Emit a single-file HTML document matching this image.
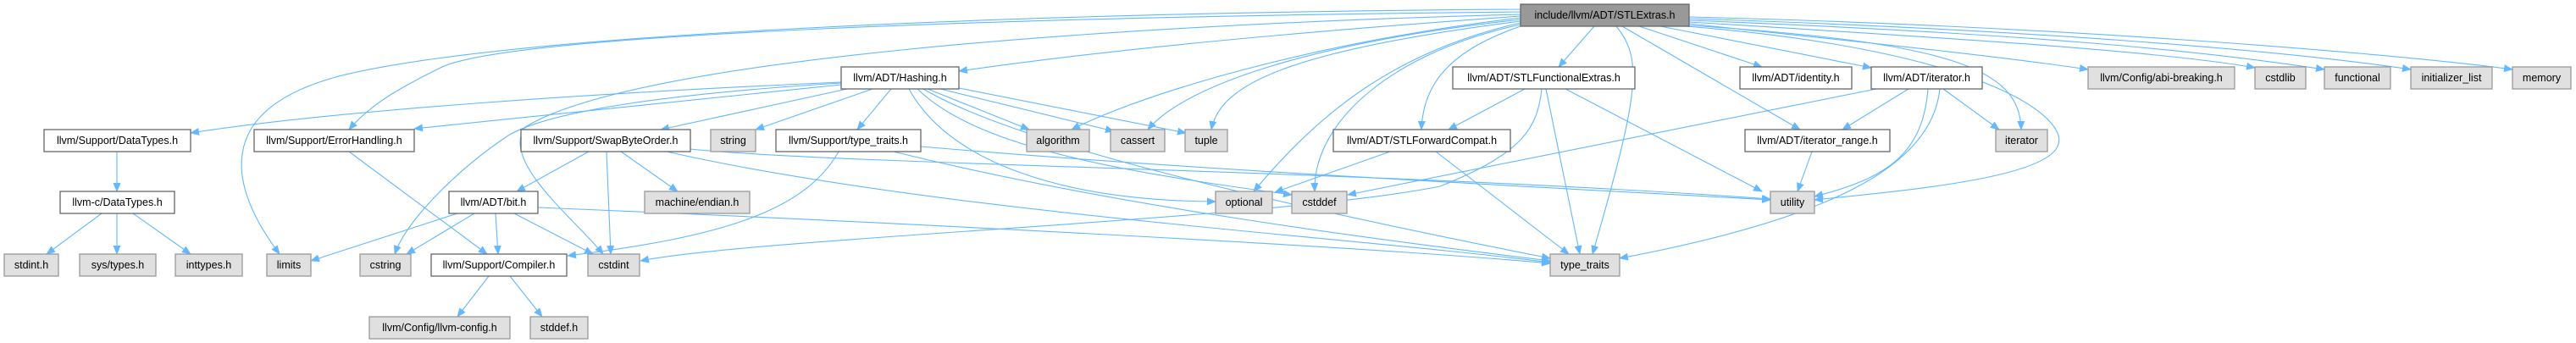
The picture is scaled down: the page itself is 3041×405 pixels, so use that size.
<!DOCTYPE html>
<html><head><meta charset="utf-8"><style>
html,body{margin:0;padding:0;background:#fff;}
svg{display:block;}
text{font-family:"Liberation Sans",Arial,sans-serif;font-size:12.5px;fill:#000;}
.w{fill:#fff;stroke:#666;stroke-width:1.3;}
.g{fill:#e0e0e0;stroke:#999;stroke-width:1.3;}
.t{fill:#999;stroke:#666;stroke-width:1.3;}
path.e{fill:none;stroke:#63b8ff;stroke-width:1.1;}
</style></head><body>
<svg width="3041" height="405" viewBox="0 0 3041 405" xmlns="http://www.w3.org/2000/svg">
<defs><marker id="a" markerWidth="11" markerHeight="9" refX="10" refY="4.5" orient="auto" markerUnits="userSpaceOnUse"><path d="M0,0 L11,4.5 L0,9 Z" fill="#63b8ff"/></marker></defs>
<g marker-end="url(#a)">
<!-- STLExtras edges -->
<path class="e" d="M1994,20 C2400,30 2800,60 2966,82"/>
<path class="e" d="M1994,22 C2400,35 2700,60 2846,82"/>
<path class="e" d="M1994,24 C2400,40 2600,60 2744,82"/>
<path class="e" d="M1994,26 C2300,45 2550,60 2662,80"/>
<path class="e" d="M1994,28 C2200,50 2350,65 2465,82"/>
<path class="e" d="M1994,30 C2300,50 2385,80 2386,153"/>
<path class="e" d="M1990,31 C2350,60 2440,140 2430,170 C2420,210 2250,225 2142,236"/>
<path class="e" d="M1960,31 L2209,80"/>
<path class="e" d="M1935,31 L2080,79"/>
<path class="e" d="M1915,31 L2125,153"/>
<path class="e" d="M1908,31 C1940,70 1935,110 1880,300"/>
<path class="e" d="M1882,31 L1840,79"/>
<path class="e" d="M1795,31 C1710,60 1680,100 1678,153"/>
<path class="e" d="M1795,29 C1650,60 1550,140 1552,226"/>
<path class="e" d="M1795,27 C1650,60 1560,130 1480,226"/>
<path class="e" d="M1795,25 C1520,60 1440,100 1430,153"/>
<path class="e" d="M1795,23 C1550,50 1400,100 1355,153"/>
<path class="e" d="M1795,21 C1550,50 1350,110 1265,153"/>
<path class="e" d="M1795,19 C1500,40 1300,60 1132,84"/>
<path class="e" d="M1795,17 C1300,30 750,70 620,150 C590,190 680,260 712,300"/>
<path class="e" d="M1795,14 C1200,20 600,40 520,80 C480,100 440,120 412,153"/>
<path class="e" d="M1795,11 C1200,15 600,40 400,90 C250,130 270,220 330,300"/>
<!-- Hashing -->
<path class="e" d="M993,97 C700,110 400,130 225,157"/>
<path class="e" d="M993,100 C800,120 600,140 489,152"/>
<path class="e" d="M993,98 C800,110 650,130 600,160 C540,200 480,260 466,300"/>
<path class="e" d="M1000,105 L780,153"/>
<path class="e" d="M1030,105 L892,153"/>
<path class="e" d="M1052,105 L1012,153"/>
<path class="e" d="M1095,105 L1215,153"/>
<path class="e" d="M1110,105 L1315,155"/>
<path class="e" d="M1132,104 L1400,157"/>
<path class="e" d="M1073,105 C1120,190 1250,237 1435,238"/>
<path class="e" d="M1083,105 C1150,170 1300,200 1525,230"/>
<path class="e" d="M1090,105 C1200,170 1500,240 1830,305"/>
<!-- SBO -->
<path class="e" d="M695,179 L610,226"/>
<path class="e" d="M716,179 L721,300"/>
<path class="e" d="M733,179 L800,226"/>
<path class="e" d="M815,176 C1000,195 1600,200 2090,235"/>
<path class="e" d="M787,179 C1100,250 1600,280 1830,310"/>
<!-- type_traits.h -->
<path class="e" d="M990,179 C950,250 850,280 670,302"/>
<path class="e" d="M1087,173 C1400,200 1800,220 2090,236"/>
<path class="e" d="M1055,179 C1300,240 1600,280 1830,308"/>
<!-- others -->
<path class="e" d="M412,179 L575,300"/>
<path class="e" d="M138,179 L138,226"/>
<path class="e" d="M120,252 L55,300"/>
<path class="e" d="M138,252 L138,300"/>
<path class="e" d="M157,252 L225,300"/>
<path class="e" d="M540,252 L367,308"/>
<path class="e" d="M560,252 L480,300"/>
<path class="e" d="M585,252 L588,300"/>
<path class="e" d="M607,252 L700,300"/>
<path class="e" d="M635,245 C1000,260 1600,290 1830,311"/>
<path class="e" d="M577,326 L540,374"/>
<path class="e" d="M602,326 L640,374"/>
<path class="e" d="M1800,105 L1710,153"/>
<path class="e" d="M1820,105 C1815,150 1800,180 1700,220 C1500,260 900,280 756,308"/>
<path class="e" d="M1825,105 L1865,300"/>
<path class="e" d="M1848,105 L2080,226"/>
<path class="e" d="M1641,179 L1505,227"/>
<path class="e" d="M1695,179 L1852,300"/>
<path class="e" d="M2139,179 L2122,226"/>
<path class="e" d="M2215,105 L1591,230"/>
<path class="e" d="M2253,105 L2175,153"/>
<path class="e" d="M2276,105 C2270,180 2230,210 2142,232"/>
<path class="e" d="M2290,105 C2280,200 2150,260 1912,305"/>
<path class="e" d="M2294,105 L2360,153"/>
</g>
<!-- nodes -->
<g text-anchor="middle">
<rect class="t" x="1795" y="5" width="199" height="26"/><text x="1894.5" y="22">include/llvm/ADT/STLExtras.h</text>
<rect class="w" x="993" y="79" width="139" height="26"/><text x="1062.5" y="96">llvm/ADT/Hashing.h</text>
<rect class="w" x="1715" y="79" width="215" height="26"/><text x="1822.5" y="96">llvm/ADT/STLFunctionalExtras.h</text>
<rect class="w" x="2054" y="79" width="132" height="26"/><text x="2120" y="96">llvm/ADT/identity.h</text>
<rect class="w" x="2209" y="79" width="131" height="26"/><text x="2274.5" y="96">llvm/ADT/iterator.h</text>
<rect class="g" x="2465" y="79" width="173" height="26"/><text x="2551.5" y="96">llvm/Config/abi-breaking.h</text>
<rect class="g" x="2662" y="79" width="60" height="26"/><text x="2692" y="96">cstdlib</text>
<rect class="g" x="2744" y="79" width="78" height="26"/><text x="2783" y="96">functional</text>
<rect class="g" x="2846" y="79" width="96" height="26"/><text x="2894" y="96">initializer_list</text>
<rect class="g" x="2966" y="79" width="69" height="26"/><text x="3000.5" y="96">memory</text>
<rect class="w" x="52" y="153" width="173" height="26"/><text x="138.5" y="170">llvm/Support/DataTypes.h</text>
<rect class="w" x="300" y="153" width="189" height="26"/><text x="394.5" y="170">llvm/Support/ErrorHandling.h</text>
<rect class="w" x="615" y="153" width="200" height="26"/><text x="715" y="170">llvm/Support/SwapByteOrder.h</text>
<rect class="g" x="839" y="153" width="53" height="26"/><text x="865.5" y="170">string</text>
<rect class="w" x="916" y="153" width="171" height="26"/><text x="1001.5" y="170">llvm/Support/type_traits.h</text>
<rect class="g" x="1212" y="153" width="74" height="26"/><text x="1249" y="170">algorithm</text>
<rect class="g" x="1311" y="153" width="64" height="26"/><text x="1343" y="170">cassert</text>
<rect class="g" x="1399" y="153" width="50" height="26"/><text x="1424" y="170">tuple</text>
<rect class="w" x="1574" y="153" width="209" height="26"/><text x="1678.5" y="170">llvm/ADT/STLForwardCompat.h</text>
<rect class="w" x="2060" y="153" width="171" height="26"/><text x="2145.5" y="170">llvm/ADT/iterator_range.h</text>
<rect class="g" x="2356" y="153" width="61" height="26"/><text x="2386.5" y="170">iterator</text>
<rect class="w" x="71" y="226" width="135" height="26"/><text x="138.5" y="243">llvm-c/DataTypes.h</text>
<rect class="w" x="530" y="226" width="105" height="26"/><text x="582.5" y="243">llvm/ADT/bit.h</text>
<rect class="g" x="761" y="226" width="124" height="26"/><text x="823" y="243">machine/endian.h</text>
<rect class="g" x="1435" y="226" width="67" height="26"/><text x="1468.5" y="243">optional</text>
<rect class="g" x="1525" y="226" width="65" height="26"/><text x="1557.5" y="243">cstddef</text>
<rect class="g" x="2090" y="226" width="52" height="26"/><text x="2116" y="243">utility</text>
<rect class="g" x="5" y="300" width="64" height="26"/><text x="37" y="317">stdint.h</text>
<rect class="g" x="94" y="300" width="90" height="26"/><text x="139" y="317">sys/types.h</text>
<rect class="g" x="207" y="300" width="79" height="26"/><text x="246.5" y="317">inttypes.h</text>
<rect class="g" x="315" y="300" width="52" height="26"/><text x="341" y="317">limits</text>
<rect class="g" x="425" y="300" width="60" height="26"/><text x="455" y="317">cstring</text>
<rect class="w" x="509" y="300" width="160" height="26"/><text x="589" y="317">llvm/Support/Compiler.h</text>
<rect class="g" x="694" y="300" width="61" height="26"/><text x="724.5" y="317">cstdint</text>
<rect class="g" x="1830" y="300" width="82" height="26"/><text x="1871" y="317">type_traits</text>
<rect class="g" x="436" y="374" width="166" height="26"/><text x="519" y="391">llvm/Config/llvm-config.h</text>
<rect class="g" x="626" y="374" width="68" height="26"/><text x="660" y="391">stddef.h</text>
</g>
</svg>
</body></html>
